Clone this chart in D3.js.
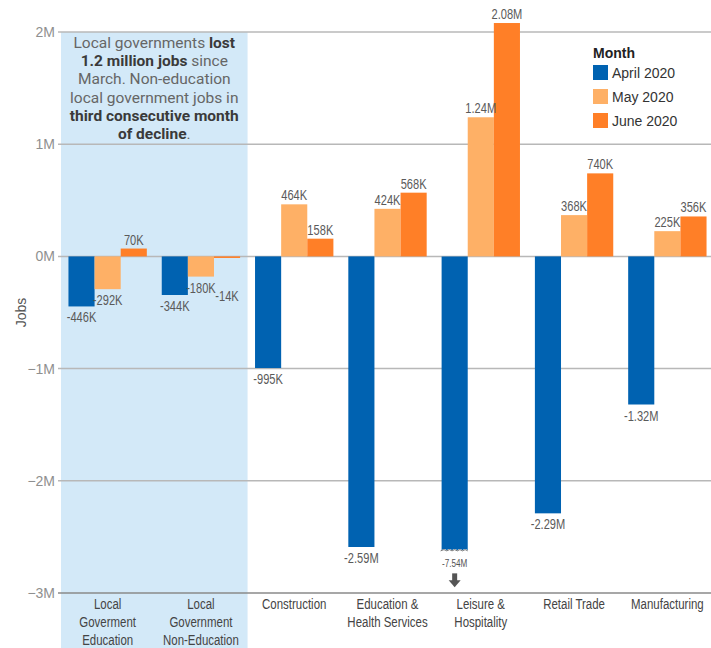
<!DOCTYPE html>
<html>
<head>
<meta charset="utf-8">
<script src="https://cdn.jsdelivr.net/npm/d3@7"></script>
<style>
  body { margin: 0; background: #fff; }
  .narrow { font-family: "Liberation Sans", Arial, sans-serif; }
</style>
</head>
<body>
<script>
var categories = [
  ["Local", "Goverment", "Education"],
  ["Local", "Government", "Non-Education"],
  ["Construction"],
  ["Education &", "Health Services"],
  ["Leisure &", "Hospitality"],
  ["Retail Trade"],
  ["Manufacturing"]
];
var months = ["April 2020", "May 2020", "June 2020"];
var april = [-446000, -344000, -995000, -2590000, -7540000, -2290000, -1320000];
var may = [-292000, -180000, 464000, 424000, 1240000, 368000, 225000];
var june = [70000, -14000, 158000, 568000, 2080000, 740000, 356000];
var aprilLabels = ["-446K", "-344K", "-995K", "-2.59M", "-7.54M", "-2.29M", "-1.32M"];
var mayLabels = ["-292K", "-180K", "464K", "424K", "1.24M", "368K", "225K"];
var juneLabels = ["70K", "-14K", "158K", "568K", "2.08M", "740K", "356K"];
var yTicks = [2e6, 1e6, 0, -1e6, -2e6, -3e6];
var cutoff = -2620000;

var width = 711;
var height = 648;
var colors = ["#0062b1", "#feb066", "#ff7f27"];
var squeeze = 0.74;

var svg = d3.select("body").append("svg")
            .attr("width", width)
            .attr("height", height);

var x = d3.scaleBand()
          .domain(d3.range(categories.length))
          .range([61, 714])
          .paddingInner(0.16)
          .paddingOuter(0.08);

var xm = d3.scaleBand()
           .domain(d3.range(months.length))
           .range([0, x.bandwidth()]);

var y = d3.scaleLinear()
          .domain([-3e6, 2e6])
          .range([593, 32]);

var step = x.step();
var x0 = x.range()[0];

// condensed text: regular sans squeezed horizontally
function narrowText(parent, tx, ty){
  return parent.append("g")
               .attr("transform", "translate(" + tx + "," + ty + ") scale(" + squeeze + ",1)")
               .append("text")
               .attr("class", "narrow")
               .attr("text-anchor", "middle");
}

// shaded local government area
svg.append("rect")
   .attr("x", x0)
   .attr("y", y(2e6))
   .attr("width", step * 2)
   .attr("height", height - y(2e6))
   .attr("fill", "#d3e9f8");

// gridlines + ticks
svg.selectAll(".grid")
   .data(yTicks)
   .enter().append("line")
   .attr("x1", 58)
   .attr("x2", width)
   .attr("y1", function(d){ return y(d); })
   .attr("y2", function(d){ return y(d); })
   .attr("stroke", function(d){ return d === -3e6 ? "#8a8a8a" : "#b8b8b8"; })
   .attr("stroke-width", 1.5);

svg.selectAll(".ytick")
   .data(yTicks)
   .enter().append("text")
   .attr("x", 55)
   .attr("y", function(d){ return y(d) + 5; })
   .attr("text-anchor", "end")
   .attr("fill", "#8f8f8f")
   .style("font-family", "Liberation Sans, Arial, sans-serif")
   .style("font-size", "14px")
   .text(function(d){ return d3.format("d")(d / 1e6) + "M"; });

svg.append("text")
   .attr("transform", "translate(26," + y(-0.5e6) + ") rotate(-90)")
   .attr("text-anchor", "middle")
   .attr("fill", "#555")
   .style("font-family", "Liberation Sans, Arial, sans-serif")
   .style("font-size", "14px")
   .text("Jobs");

// bars
var series = [april, may, june];
var labels = [aprilLabels, mayLabels, juneLabels];
var rows = [];
series.forEach(function(s, m){
  s.forEach(function(v, i){
    rows.push({ cat: i, m: m, v: v, label: labels[m][i] });
  });
});

var barW = xm.bandwidth();

svg.selectAll(".bar")
   .data(rows.filter(function(d){ return d.v >= cutoff; }))
   .enter().append("rect")
   .attr("x", function(d){ return x(d.cat) + xm(d.m); })
   .attr("y", function(d){ return y(Math.max(0, d.v)); })
   .attr("width", barW)
   .attr("height", function(d){ return Math.abs(y(d.v) - y(0)); })
   .attr("fill", function(d){ return colors[d.m]; });

// broken bar with wavy bottom
rows.filter(function(d){ return d.v < cutoff; }).forEach(function(d){
  var bx = x(d.cat) + xm(d.m);
  var by = y(cutoff);
  var waves = 5, ww = barW / waves;
  var p = d3.path();
  p.moveTo(bx, y(0));
  p.lineTo(bx + barW, y(0));
  p.lineTo(bx + barW, by);
  for (var k = 0; k < waves; k++) {
    var xa = bx + barW - k * ww;
    p.quadraticCurveTo(xa - ww / 2, by - 2.5, xa - ww, by);
  }
  p.closePath();
  svg.append("path").attr("d", p.toString()).attr("fill", colors[d.m]);

  var wave = d3.path();
  wave.moveTo(bx - 1, by + 0.5);
  for (var j = 0; j < waves; j++) {
    var xb = bx + j * ww;
    wave.quadraticCurveTo(xb + ww / 2, by - 2, xb + ww, by + 0.5);
  }
  svg.append("path").attr("d", wave.toString())
     .attr("fill", "none").attr("stroke", "#444").attr("stroke-width", 0.7);

  var cx = bx + barW / 2;
  narrowText(svg, cx, by + 17)
     .attr("fill", "#555")
     .style("font-size", "11px")
     .text(d.label);

  svg.append("rect")
     .attr("x", cx - 2.5).attr("y", by + 23)
     .attr("width", 5).attr("height", 8)
     .attr("fill", "#555");
  svg.append("path")
     .attr("d", "M" + (cx - 6) + "," + (by + 30) + "L" + (cx + 6) + "," + (by + 30) + "L" + cx + "," + (by + 37) + "Z")
     .attr("fill", "#555");
});

// value labels (the -14K label sits lower in the original to clear its neighbour)
var labelNudge = { "-14K": 27 };

rows.filter(function(d){ return d.v >= cutoff; }).forEach(function(d){
  var lx = x(d.cat) + xm(d.m) + barW / 2;
  var ly = d.v >= 0 ? y(d.v) - 4 : y(d.v) + 16 + (labelNudge[d.label] || 0);
  narrowText(svg, lx, ly)
     .attr("fill", "#5a5a5a")
     .style("font-size", "15px")
     .text(d.label);
});

// x-axis labels
categories.forEach(function(lines, i){
  var t = narrowText(svg, x(i) + x.bandwidth() / 2, 609)
             .attr("fill", "#444")
             .style("font-size", "15.5px");
  lines.forEach(function(line, k){
    t.append("tspan")
     .attr("x", 0)
     .attr("y", k * 18)
     .text(line);
  });
});

// annotation
var note = [
  [["Local governments ", false], ["lost", true]],
  [["1.2 million jobs", true], [" since", false]],
  [["March. Non-education", false]],
  [["local government jobs in", false]],
  [["third consecutive month", true]],
  [["of decline", true], [".", false]]
];
var noteX = x0 + step;
note.forEach(function(line, k){
  var t = svg.append("text")
             .attr("x", noteX)
             .attr("y", 48 + k * 18.2)
             .attr("text-anchor", "middle")
             .style("font-family", "Roboto, 'Open Sans', sans-serif")
             .style("font-size", "15.5px");
  line.forEach(function(part){
    t.append("tspan")
     .attr("fill", part[1] ? "#3a3a3a" : "#666")
     .style("font-weight", part[1] ? "bold" : "normal")
     .text(part[0]);
  });
});

// legend
var legend = svg.append("g").attr("transform", "translate(593,0)");
legend.append("text")
      .attr("x", 0).attr("y", 58)
      .attr("fill", "#222")
      .style("font-family", "Liberation Sans, Arial, sans-serif")
      .style("font-size", "14px")
      .style("font-weight", "bold")
      .text("Month");
months.forEach(function(m, i){
  legend.append("rect")
        .attr("x", 0).attr("y", 65 + i * 24)
        .attr("width", 15).attr("height", 15)
        .attr("fill", colors[i]);
  legend.append("text")
        .attr("x", 19).attr("y", 78 + i * 24)
        .attr("fill", "#333")
        .style("font-family", "Liberation Sans, Arial, sans-serif")
        .style("font-size", "14px")
        .text(m);
});
</script>
</body>
</html>
